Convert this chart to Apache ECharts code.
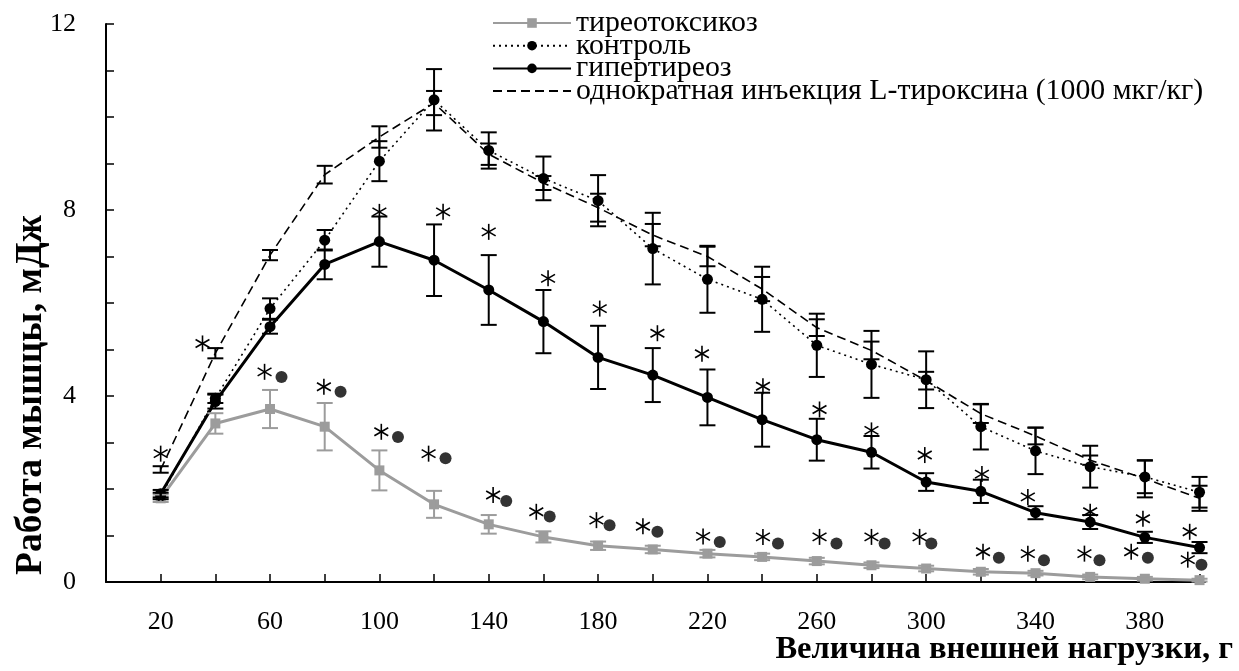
<!DOCTYPE html>
<html><head><meta charset="utf-8">
<script src="https://cdn.jsdelivr.net/npm/echarts@6/dist/echarts.min.js"></script>
<style>html,body{margin:0;padding:0;background:#fff}#c{width:1239px;height:671px}</style>
</head><body><div id="c"></div>
<script>
// ---- data ----
const loads = [20,40,60,80,100,120,140,160,180,200,220,240,260,280,300,320,340,360,380,400];
const xTickValues = [20,40,60,80,100,120,140,160,180,200,220,240,260,280,300,320,340,360,380,400];
const xLabelValues = [20,60,100,140,180,220,260,300,340,380];
const yLabelValues = [0,4,8,12];
const seriesNames = ['тиреотоксикоз','контроль','гипертиреоз','однократная инъекция L-тироксина (1000 мкг/кг)'];
const xTitle = 'Величина внешней нагрузки, г';
const yTitle = 'Работа мышцы, мДж';

const thyro    = [1.80,3.41,3.72,3.34,2.40,1.67,1.24,0.97,0.78,0.70,0.61,0.54,0.45,0.36,0.29,0.22,0.19,0.11,0.07,0.04];
const thyroErr = [0.08,0.22,0.41,0.51,0.43,0.29,0.20,0.12,0.09,0.08,0.08,0.07,0.07,0.06,0.06,0.06,0.05,0.05,0.04,0.03];
const control    = [1.85,3.95,5.88,7.35,9.05,10.37,9.28,8.68,8.20,7.17,6.51,6.08,5.09,4.68,4.35,3.34,2.82,2.48,2.26,1.93];
const controlErr = [0.07,0.10,0.22,0.22,0.43,0.66,0.39,0.47,0.55,0.77,0.72,0.70,0.68,0.72,0.61,0.49,0.50,0.45,0.35,0.33];
const hyper    = [1.90,3.88,5.49,6.83,7.32,6.92,6.28,5.60,4.83,4.45,3.97,3.49,3.06,2.79,2.15,1.95,1.49,1.29,0.96,0.74];
const hyperErr = [0.08,0.15,0.15,0.32,0.54,0.77,0.75,0.68,0.68,0.58,0.60,0.58,0.45,0.35,0.19,0.25,0.14,0.15,0.12,0.12];
const thyroxine    = [2.42,4.92,7.03,8.76,9.57,10.30,9.20,8.58,8.05,7.46,7.00,6.30,5.47,4.98,4.33,3.62,3.14,2.62,2.22,1.80];
const thyroxineErr = [0.07,0.11,0.11,0.19,0.23,0.26,0.23,0.15,0.30,0.24,0.21,0.26,0.18,0.19,0.19,0.20,0.18,0.10,0.40,0.27];

// significance marks: single asterisks
const starX = [20,35.3,100,123.3,140,161.7,180.6,201.7,218,240.3,261,280,299.5,320.4,337.2,360,379.3,396.4];
const starY = [2.76,5.13,7.96,7.96,7.53,6.53,5.88,5.35,4.91,4.21,3.71,3.26,2.73,2.32,1.83,1.51,1.36,1.08];
// asterisk + dot pairs
const pairStarX = [58,79.7,100.7,118,141.6,157.4,179.4,196.4,218.4,240.3,261,280,297.6,320.8,337.2,357.9,375,395.7];
const pairStarY = [4.52,4.20,3.23,2.76,1.87,1.51,1.33,1.20,0.98,0.97,0.97,0.97,0.97,0.65,0.61,0.61,0.65,0.48];
const dotX = [64.2,85.8,106.8,124.2,146.4,162.3,184.2,201.7,224.5,245.8,267.2,284.8,301.9,326.6,343.1,363.4,381.1,400.7];
const dotY = [4.41,4.09,3.12,2.66,1.74,1.41,1.22,1.08,0.86,0.83,0.83,0.83,0.83,0.52,0.47,0.47,0.52,0.37];

// ---- build ----
const FONT = "'Liberation Serif','Times New Roman',serif";
const GRAY = '#9c9c9c';
const pts = v => loads.map((x, i) => [x, v[i]]);
const errs = (v, e) => loads.map((x, i) => [x, v[i] - e[i], v[i] + e[i]]);

function errRender(color, width) {
  return function (params, api) {
    const x = api.value(0);
    const p1 = api.coord([x, api.value(1)]);
    const p2 = api.coord([x, api.value(2)]);
    const w = 8;
    const st = { stroke: color, lineWidth: width };
    return { type: 'group', children: [
      { type: 'line', shape: { x1: p1[0], y1: p1[1], x2: p2[0], y2: p2[1] }, style: st },
      { type: 'line', shape: { x1: p1[0] - w, y1: p1[1], x2: p1[0] + w, y2: p1[1] }, style: st },
      { type: 'line', shape: { x1: p2[0] - w, y1: p2[1], x2: p2[0] + w, y2: p2[1] }, style: st }
    ]};
  };
}
function starRender(params, api) {
  const c = api.coord([api.value(0), api.value(1)]);
  const r = 8, a = Math.PI / 6;
  const dx = r * Math.cos(a), dy = r * Math.sin(a);
  const st = { stroke: '#000', lineWidth: 1.6 };
  return { type: 'group', children: [
    { type: 'line', shape: { x1: c[0], y1: c[1] - r, x2: c[0], y2: c[1] + r }, style: st },
    { type: 'line', shape: { x1: c[0] - dx, y1: c[1] - dy, x2: c[0] + dx, y2: c[1] + dy }, style: st },
    { type: 'line', shape: { x1: c[0] - dx, y1: c[1] + dy, x2: c[0] + dx, y2: c[1] - dy }, style: st }
  ]};
}
function errSeries(v, e, color, w) {
  return { type: 'custom', data: errs(v, e), encode: { x: 0, y: [1, 2] }, renderItem: errRender(color, w), z: 5, silent: true };
}

const chart = echarts.init(document.getElementById('c'), null, { renderer: 'canvas' });
chart.setOption({
  animation: false,
  backgroundColor: '#fff',
  textStyle: { fontFamily: FONT },
  grid: { left: 106, right: 34, top: 24, bottom: 89, containLabel: false },
  legend: {
    data: [
      { name: seriesNames[0] },
      { name: seriesNames[1] },
      { name: seriesNames[2] },
      { name: seriesNames[3], itemStyle: { color: 'rgba(0,0,0,0)', borderWidth: 0, opacity: 0 } }
    ],
    orient: 'vertical', left: 492, top: 8, padding: 0,
    itemWidth: 78, itemHeight: 12, itemGap: -7.3,
    textStyle: { fontFamily: FONT, fontSize: 29.8, color: '#000' }
  },
  xAxis: {
    type: 'value', min: 0, max: 402,
    axisLine: { lineStyle: { color: '#000', width: 2 } },
    axisTick: { show: true, inside: true, length: 8, customValues: xTickValues, lineStyle: { color: '#000', width: 1.5 } },
    axisLabel: { customValues: xLabelValues, margin: 27, fontFamily: FONT, fontSize: 26, color: '#000' },
    splitLine: { show: false }
  },
  yAxis: {
    type: 'value', min: 0, max: 12, interval: 1,
    axisLine: { show: true, lineStyle: { color: '#000', width: 2 } },
    axisTick: { show: true, inside: true, length: 8, lineStyle: { color: '#000', width: 1.5 } },
    axisLabel: { customValues: yLabelValues, margin: 30, fontFamily: FONT, fontSize: 26, color: '#000' },
    splitLine: { show: false }
  },
  graphic: [
    { type: 'text', x: 1233, y: 650, style: { text: xTitle, fill: '#000', font: "bold 32.6px 'Liberation Serif'", align: 'right', verticalAlign: 'middle' } },
    { type: 'text', x: 31, y: 395, rotation: Math.PI / 2, style: { text: yTitle, fill: '#000', font: "bold 37.5px 'Liberation Serif'", align: 'center', verticalAlign: 'middle' } }
  ],
  series: [
    { name: seriesNames[0], type: 'line', data: pts(thyro), symbol: 'rect', symbolSize: 10,
      lineStyle: { color: GRAY, width: 3 }, itemStyle: { color: GRAY }, z: 3 },
    { name: seriesNames[1], type: 'line', data: pts(control), symbol: 'circle', symbolSize: 11,
      lineStyle: { color: '#000', width: 1.6, type: [2, 4] }, itemStyle: { color: '#000' }, z: 3 },
    { name: seriesNames[2], type: 'line', data: pts(hyper), symbol: 'circle', symbolSize: 11,
      lineStyle: { color: '#000', width: 3 }, itemStyle: { color: '#000' }, z: 3 },
    { name: seriesNames[3], type: 'line', data: pts(thyroxine), symbol: 'none',
      lineStyle: { color: '#000', width: 1.6, type: [9, 5] }, itemStyle: { color: '#000' }, z: 3 },
    errSeries(thyro, thyroErr, GRAY, 2),
    errSeries(control, controlErr, '#000', 2),
    errSeries(hyper, hyperErr, '#000', 2),
    errSeries(thyroxine, thyroxineErr, '#000', 2),
    { type: 'custom', data: starX.map((x, i) => [x, starY[i]]), encode: { x: 0, y: 1 }, renderItem: starRender, z: 6, silent: true },
    { type: 'custom', data: pairStarX.map((x, i) => [x, pairStarY[i]]), encode: { x: 0, y: 1 }, renderItem: starRender, z: 6, silent: true },
    { type: 'scatter', data: dotX.map((x, i) => [x, dotY[i]]), symbol: 'circle', symbolSize: 12, itemStyle: { color: '#000' }, z: 6, silent: true }
  ]
});
</script>
</body></html>
